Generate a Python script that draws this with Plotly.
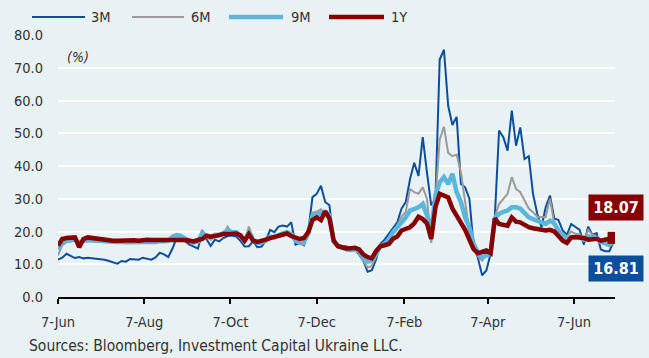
import pandas as pd
import plotly.graph_objects as go

# ---------------- data ----------------
start_date = "2021-06-07"
step_days = 3

rate_3m = [11.4, 12.0, 13.2, 12.6, 11.9, 12.2, 11.8, 12.0, 11.9, 11.7,
           11.6, 11.4, 11.0, 10.6, 10.2, 11.0, 10.8, 11.6, 11.5, 11.4,
           12.0, 11.8, 11.4, 12.1, 13.5, 13.0, 12.2, 14.8, 18.2, 18.0,
           17.0, 16.0, 15.4, 14.8, 19.8, 17.8, 15.6, 17.5, 17.0, 18.0,
           18.6, 18.8, 18.5, 17.2, 15.4, 15.5, 17.0, 15.2, 15.4, 17.2,
           20.5, 19.8, 21.5, 21.8, 21.5, 22.8, 16.0, 16.5, 15.8, 20.0,
           30.5, 31.5, 34.0, 29.0, 28.0, 16.8, 16.0, 15.6, 15.4, 14.8,
           14.4, 13.0, 11.0, 7.7, 8.2, 11.5, 16.2, 17.5, 19.3, 21.0,
           22.8, 27.0, 29.0, 36.0, 41.0, 37.0, 48.8, 38.0, 28.0, 30.0,
           72.5, 75.5, 58.4, 52.5, 55.0, 34.5, 33.5, 30.0, 15.5, 12.0,
           6.6, 8.1, 13.2, 24.4, 50.8, 48.8, 44.7, 56.9, 46.2, 51.8,
           42.1, 43.0, 31.5, 25.4, 21.3, 27.5, 31.0, 24.0, 23.5, 20.3,
           19.0, 22.3, 21.5, 20.5, 16.0, 21.5, 19.0, 19.5, 14.5, 14.0,
           14.0, 16.81]

rate_6m = [12.7, 15.8, 16.7, 17.0, 17.2, 16.5, 16.8, 17.0, 17.0, 16.9,
           16.8, 16.7, 16.6, 16.5, 16.4, 16.6, 16.5, 16.5, 16.6, 16.5,
           16.6, 16.8, 16.6, 16.5, 17.0, 16.8, 17.0, 18.8, 19.3, 19.0,
           18.2, 17.0, 16.5, 16.8, 20.5, 18.5, 17.5, 18.8, 18.5, 19.2,
           21.5, 19.5, 19.8, 18.5, 16.8, 21.5, 17.8, 16.5, 16.4, 17.0,
           18.5, 18.0, 19.0, 19.5, 19.8, 19.0, 16.8, 16.2, 16.0, 19.5,
           25.8, 26.0, 26.8, 25.5, 25.0, 16.5, 15.5, 14.8, 14.2, 14.0,
           14.2, 13.5, 11.0, 9.0, 9.5, 12.5, 15.8, 16.5, 18.0, 20.0,
           22.0, 24.5, 26.0, 33.0, 32.0, 31.5, 33.5, 30.0, 16.5, 30.0,
           48.0, 52.0, 44.0, 43.0, 43.5, 38.0, 29.0, 20.0, 15.0, 12.5,
           11.1, 13.0, 13.5, 24.5, 28.4, 30.0, 31.5, 36.6, 33.0, 32.0,
           29.4, 27.0, 25.9, 24.5, 24.4, 24.4, 30.0, 22.5, 20.3, 19.5,
           18.5, 20.0, 19.3, 19.2, 17.0, 20.5, 19.0, 18.5, 16.5, 16.0,
           15.5, 16.5]

rate_9m = [14.5, 16.8, 17.2, 17.5, 17.6, 16.5, 17.2, 17.4, 17.3, 17.2,
           17.1, 17.0, 16.8, 16.7, 16.6, 16.8, 16.7, 16.7, 16.8, 16.7,
           16.8, 17.0, 16.9, 16.8, 17.1, 17.0, 17.2, 18.3, 18.6, 18.4,
           17.8, 17.0, 16.6, 16.9, 19.5, 18.6, 18.0, 19.0, 18.9, 19.5,
           20.3, 19.8, 19.8, 18.8, 16.9, 20.0, 17.5, 16.5, 16.6, 17.2,
           18.4, 18.2, 19.0, 19.4, 19.8, 19.2, 17.2, 16.8, 16.8, 19.5,
           24.8, 25.2, 25.5, 26.0, 25.0, 17.0, 15.6, 15.0, 14.6, 14.5,
           14.6, 14.0, 12.0, 10.8, 11.0, 13.0, 15.5, 16.2, 17.5, 19.8,
           21.3, 22.8, 24.3, 26.4, 27.0, 27.4, 28.4, 25.0, 20.0, 31.0,
           35.0, 36.6, 34.5, 37.6, 32.0, 29.0, 24.3, 21.3, 16.2, 13.5,
           12.1, 12.8, 13.2, 24.0, 25.4, 26.0, 26.4, 27.4, 27.4, 27.0,
           25.5, 24.3, 23.8, 23.3, 22.8, 22.3, 23.3, 22.5, 20.3, 18.5,
           17.5, 18.2, 18.2, 18.2, 17.5, 18.5, 18.0, 18.0, 16.8, 16.5,
           16.2, 16.8]

rate_1y = [15.7, 17.7, 18.0, 18.2, 18.2, 15.2, 17.7, 18.2, 18.0, 17.9,
           17.8, 17.7, 17.5, 17.2, 17.2, 17.3, 17.2, 17.2, 17.3, 17.2,
           17.4, 17.5, 17.4, 17.4, 17.5, 17.6, 17.7, 17.7, 17.6, 17.5,
           17.4, 17.2, 17.0, 17.4, 17.7, 18.7, 18.4, 18.6, 19.0, 19.2,
           19.2, 19.3, 19.4, 18.8, 17.2, 19.2, 17.2, 16.8, 17.0, 17.5,
           18.0, 18.3, 18.7, 19.0, 19.4, 18.6, 18.0, 17.7, 18.0, 19.8,
           23.5, 24.3, 23.5, 26.1, 24.0, 17.2, 15.5, 15.0, 14.8, 14.9,
           15.0, 14.5, 13.0, 12.2, 11.8, 14.0, 15.5, 15.8, 16.2, 17.8,
           18.5, 20.3, 20.8, 21.3, 22.5, 24.5, 23.8, 22.5, 17.7, 27.5,
           31.5, 30.8, 30.4, 27.0, 25.0, 23.0, 20.5, 17.5, 14.6, 13.4,
           13.8, 14.2, 13.4, 24.0, 22.3, 22.0, 21.8, 24.3, 23.0, 22.8,
           22.0, 21.3, 21.0, 20.8, 20.3, 20.3, 20.5, 20.0, 18.6, 17.2,
           16.5, 18.2, 18.3, 18.3, 18.0, 17.5, 17.6, 17.8, 17.2, 17.5,
           17.8, 18.07]

series_names = ["3M", "6M", "9M", "1Y"]
tick_dates = ["2021-06-07", "2021-08-07", "2021-10-07", "2021-12-07",
              "2022-02-07", "2022-04-07", "2022-06-07"]
tick_labels = ["7-Jun", "7-Aug", "7-Oct", "7-Dec", "7-Feb", "7-Apr", "7-Jun"]
y_ticks = [0, 10, 20, 30, 40, 50, 60, 70, 80]
source_text = "Sources: Bloomberg, Investment Capital Ukraine LLC."

# ---------------- styling ----------------
all_series = [rate_3m, rate_6m, rate_9m, rate_1y]
for s in all_series:
    assert len(s) == len(rate_1y), len(s)
dates = pd.date_range(start_date, periods=len(rate_1y), freq=f"{step_days}D")

colors = ["#0b4f9c", "#9a9a9a", "#5bb6de", "#870000"]
widths = [2, 2, 4.5, 4.5]

W, H = 649, 358
L, R, T, B = 58, 615, 35, 297
BG = "#e8f1f3"
FONT = "DejaVu Sans Condensed, Liberation Sans Narrow, sans-serif"
TXT = "#333333"
FS = 14.5


def px_x(p):
    return (p - L) / (R - L)


def px_y(p):
    return (B - p) / (B - T)


fig = go.Figure()
for name, s, c, w in zip(series_names, all_series, colors, widths):
    fig.add_trace(go.Scatter(x=dates, y=s, mode="lines", name=name,
                             line=dict(color=c, width=w), showlegend=False))

# end marker on 1Y
fig.add_trace(go.Scatter(x=[dates[-1]], y=[rate_1y[-1]], mode="markers",
                         marker=dict(symbol="square", size=12, color=colors[3]),
                         showlegend=False))

shapes = []
annotations = []
# custom legend
leg_items = [(32, 85, 89), (132, 184, 189), (229, 283, 289), (329, 384, 389)]
for (x0, x1, xt), name, c, w in zip(leg_items, series_names, colors, widths):
    shapes.append(dict(type="line", xref="paper", yref="paper",
                       x0=px_x(x0), x1=px_x(x1), y0=px_y(17), y1=px_y(17),
                       line=dict(color=c, width=w)))
    annotations.append(dict(xref="paper", yref="paper", x=px_x(xt), y=px_y(17),
                            text=name, showarrow=False, xanchor="left",
                            yanchor="middle", font=dict(size=FS, color=TXT, family=FONT)))

annotations.append(dict(xref="paper", yref="paper", x=px_x(65), y=px_y(57),
                        text="<i>(%)</i>", showarrow=False, xanchor="left",
                        yanchor="middle", font=dict(size=14, color=TXT, family=FONT)))

annotations.append(dict(xref="paper", yref="paper", x=px_x(27), y=px_y(346),
                        text=source_text, showarrow=False, xanchor="left",
                        yanchor="middle", font=dict(size=15.5, color=TXT, family=FONT)))

# end value labels
annotations.append(dict(xref="paper", yref="paper", x=px_x(616), y=px_y(208),
                        text=f"<b>{rate_1y[-1]:.2f}</b>", showarrow=False,
                        xanchor="center", yanchor="middle", bgcolor=colors[3],
                        width=54, height=25, borderpad=0,
                        font=dict(size=16, color="white", family=FONT)))
annotations.append(dict(xref="paper", yref="paper", x=px_x(616), y=px_y(268),
                        text=f"<b>{rate_3m[-1]:.2f}</b>", showarrow=False,
                        xanchor="center", yanchor="middle", bgcolor=colors[0],
                        width=54, height=25, borderpad=0,
                        font=dict(size=16, color="white", family=FONT)))

fig.update_layout(
    width=W, height=H,
    margin=dict(l=L, r=W - R, t=T, b=H - B, pad=0),
    paper_bgcolor=BG, plot_bgcolor=BG,
    font=dict(family=FONT, size=FS, color=TXT),
    shapes=shapes, annotations=annotations,
    xaxis=dict(type="date", range=["2021-06-07", "2022-07-06"],
               tickvals=tick_dates, ticktext=tick_labels,
               showgrid=False, zeroline=False,
               showline=True, linecolor="#000000", linewidth=1.5,
               ticks="outside", ticklen=5, tickwidth=1.5, tickcolor="#000000",
               ticklabelstandoff=6,
               tickfont=dict(size=FS, color=TXT, family=FONT)),
    yaxis=dict(range=[0, 80], tickvals=y_ticks, tickformat=".1f",
               showgrid=True, gridcolor="white", gridwidth=2,
               zeroline=False, showline=False, ticks="",
               ticklabelstandoff=14,
               tickfont=dict(size=FS, color=TXT, family=FONT)),
)

fig.write_html("out.html")
